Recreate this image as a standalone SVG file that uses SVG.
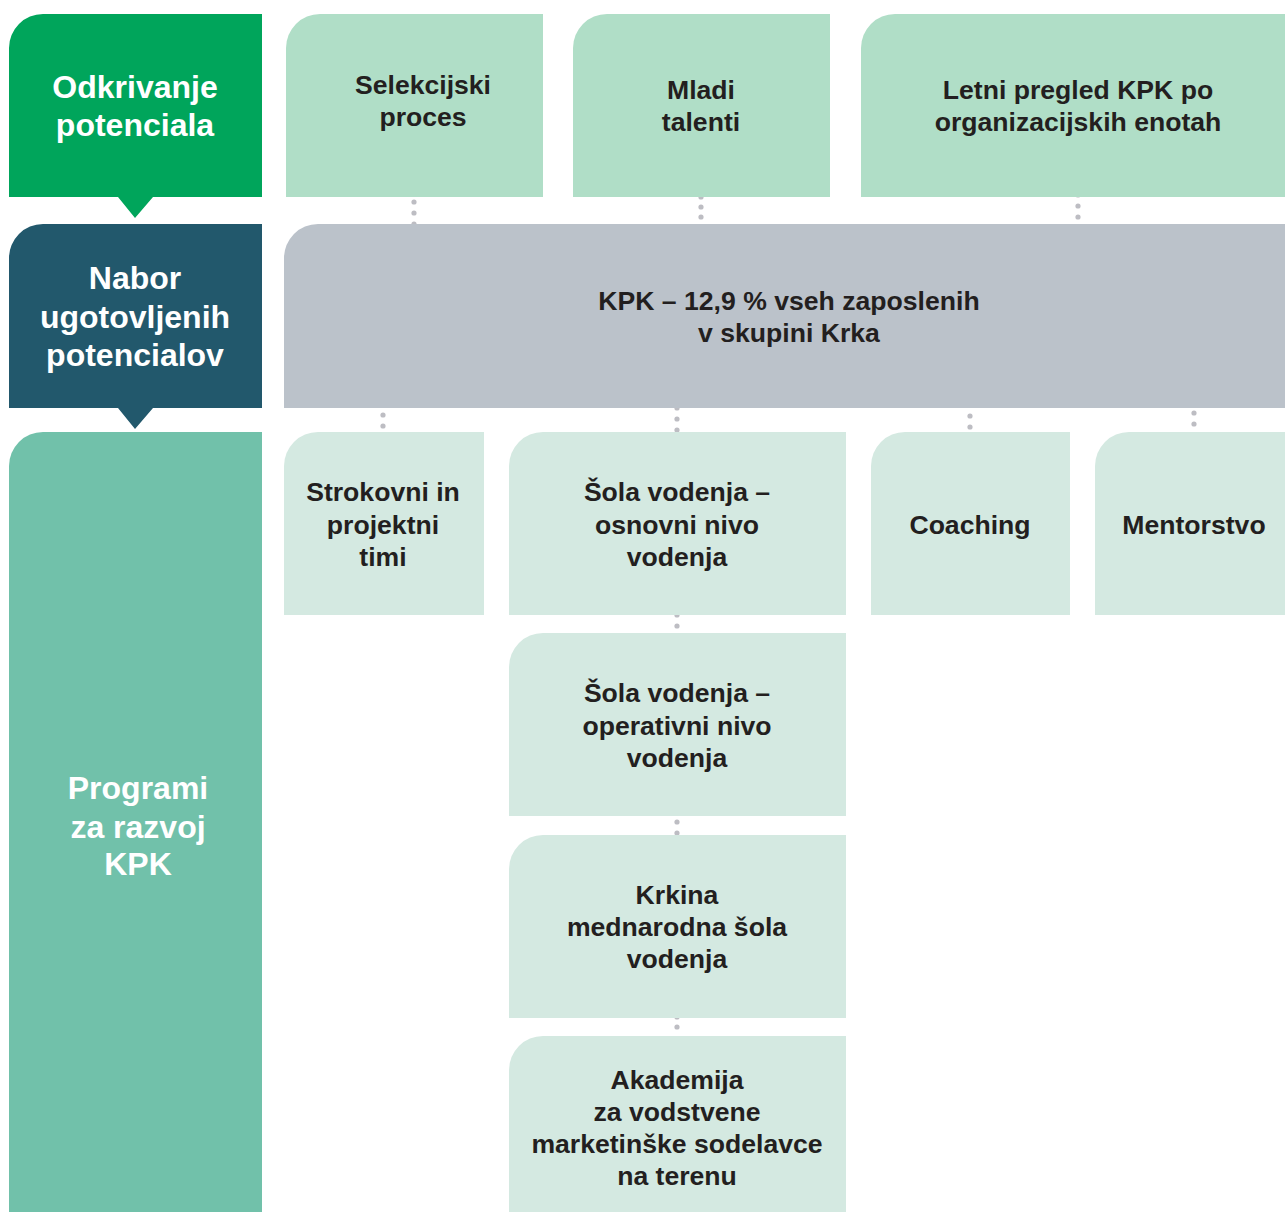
<svg xmlns="http://www.w3.org/2000/svg" width="1285" height="1212" viewBox="0 0 1285 1212">
<style>
.t{font-family:"Liberation Sans",Arial,sans-serif;font-weight:bold;font-size:26.6px;fill:#231F20;text-anchor:middle}
.h{font-family:"Liberation Sans",Arial,sans-serif;font-weight:bold;font-size:32px;fill:#FFFFFF;text-anchor:middle}
.d{fill:#BDBDC3}
.g1{fill:#00A55B}
.g2{fill:#22586C}
.g3{fill:#71C1AA}
.lg{fill:#B0DEC7}
.gr{fill:#BBC2CA}
.mn{fill:#D4E9E1}
</style>
<rect width="1285" height="1212" fill="#FFFFFF"/>
<g id="connectors">
<circle class="d" cx="414" cy="202" r="2.6"/><circle class="d" cx="414" cy="213" r="2.6"/><circle class="d" cx="414" cy="224" r="2.6"/>
<circle class="d" cx="701" cy="197" r="2.6"/><circle class="d" cx="701" cy="207" r="2.6"/><circle class="d" cx="701" cy="217" r="2.6"/>
<circle class="d" cx="1078" cy="195" r="2.6"/><circle class="d" cx="1078" cy="206" r="2.6"/><circle class="d" cx="1078" cy="217" r="2.6"/>
<circle class="d" cx="383" cy="415" r="2.6"/><circle class="d" cx="383" cy="426" r="2.6"/>
<circle class="d" cx="677" cy="408" r="2.6"/><circle class="d" cx="677" cy="419" r="2.6"/><circle class="d" cx="677" cy="430" r="2.6"/>
<circle class="d" cx="970" cy="416" r="2.6"/><circle class="d" cx="970" cy="427" r="2.6"/>
<circle class="d" cx="1194" cy="413" r="2.6"/><circle class="d" cx="1194" cy="424" r="2.6"/>
<circle class="d" cx="677" cy="615" r="2.6"/><circle class="d" cx="677" cy="626" r="2.6"/>
<circle class="d" cx="677" cy="822" r="2.6"/><circle class="d" cx="677" cy="833" r="2.6"/>
<circle class="d" cx="677" cy="1017" r="2.6"/><circle class="d" cx="677" cy="1027" r="2.6"/>
</g>
<g id="odkrivanje">
<path class="g1" d="M9,48 A34,34 0 0 1 43,14 H262 V197 H153 L135,218 L118,197 H9 Z"/>
<text class="h" x="135" y="98">Odkrivanje</text>
<text class="h" x="135" y="136">potenciala</text>
</g>
<g id="selekcijski">
<path class="lg" d="M286,48 A34,34 0 0 1 320,14 H543 V197 H286 Z"/>
<text class="t" x="423" y="94">Selekcijski</text>
<text class="t" x="423" y="126">proces</text>
</g>
<g id="mladi">
<path class="lg" d="M573,48 A34,34 0 0 1 607,14 H830 V197 H573 Z"/>
<text class="t" x="701" y="99">Mladi</text>
<text class="t" x="701" y="131">talenti</text>
</g>
<g id="letni">
<path class="lg" d="M861,48 A34,34 0 0 1 895,14 H1295 V197 H861 Z"/>
<text class="t" x="1078" y="99">Letni pregled KPK po</text>
<text class="t" x="1078" y="131">organizacijskih enotah</text>
</g>
<g id="nabor">
<path class="g2" d="M9,258 A34,34 0 0 1 43,224 H262 V408 H153 L135,429 L118,408 H9 Z"/>
<text class="h" x="135" y="289">Nabor</text>
<text class="h" x="135" y="328">ugotovljenih</text>
<text class="h" x="135" y="366">potencialov</text>
</g>
<g id="kpk">
<path class="gr" d="M284,258 A34,34 0 0 1 318,224 H1295 V408 H284 Z"/>
<text class="t" x="789" y="310">KPK – 12,9 % vseh zaposlenih</text>
<text class="t" x="789" y="342">v skupini Krka</text>
</g>
<g id="programi">
<path class="g3" d="M9,466 A34,34 0 0 1 43,432 H262 V1212 H9 Z"/>
<text class="h" x="138" y="799">Programi</text>
<text class="h" x="138" y="838">za razvoj</text>
<text class="h" x="138" y="875">KPK</text>
</g>
<g id="strokovni">
<path class="mn" d="M284,466 A34,34 0 0 1 318,432 H484 V615 H284 Z"/>
<text class="t" x="383" y="501">Strokovni in</text>
<text class="t" x="383" y="534">projektni</text>
<text class="t" x="383" y="566">timi</text>
</g>
<g id="sola-osnovni">
<path class="mn" d="M509,466 A34,34 0 0 1 543,432 H846 V615 H509 Z"/>
<text class="t" x="677" y="501">Šola vodenja –</text>
<text class="t" x="677" y="534">osnovni nivo</text>
<text class="t" x="677" y="566">vodenja</text>
</g>
<g id="coaching">
<path class="mn" d="M871,466 A34,34 0 0 1 905,432 H1070 V615 H871 Z"/>
<text class="t" x="970" y="534">Coaching</text>
</g>
<g id="mentorstvo">
<path class="mn" d="M1095,466 A34,34 0 0 1 1129,432 H1295 V615 H1095 Z"/>
<text class="t" x="1194" y="534">Mentorstvo</text>
</g>
<g id="sola-operativni">
<path class="mn" d="M509,667 A34,34 0 0 1 543,633 H846 V816 H509 Z"/>
<text class="t" x="677" y="702">Šola vodenja –</text>
<text class="t" x="677" y="735">operativni nivo</text>
<text class="t" x="677" y="767">vodenja</text>
</g>
<g id="krkina">
<path class="mn" d="M509,869 A34,34 0 0 1 543,835 H846 V1018 H509 Z"/>
<text class="t" x="677" y="904">Krkina</text>
<text class="t" x="677" y="936">mednarodna šola</text>
<text class="t" x="677" y="968">vodenja</text>
</g>
<g id="akademija">
<path class="mn" d="M509,1070 A34,34 0 0 1 543,1036 H846 V1212 H509 Z"/>
<text class="t" x="677" y="1089">Akademija</text>
<text class="t" x="677" y="1121">za vodstvene</text>
<text class="t" x="677" y="1153">marketinške sodelavce</text>
<text class="t" x="677" y="1185">na terenu</text>
</g>
</svg>
